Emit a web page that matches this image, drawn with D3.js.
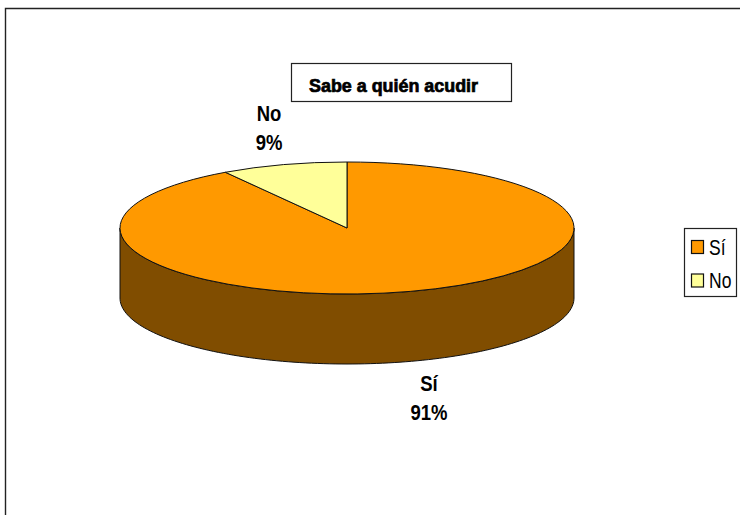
<!DOCTYPE html>
<html>
<head>
<meta charset="utf-8">
<script src="https://cdn.jsdelivr.net/npm/d3@7/dist/d3.min.js"></script>
<style>
  html, body { margin: 0; padding: 0; background: #fff; }
  svg { display: block; }
  text { font-family: "Liberation Sans", Arial, sans-serif; fill: #000; }
</style>
</head>
<body>
<svg id="chart" width="740" height="515"></svg>
<script>
const categories = ["Sí", "No"];
const percentages = [91, 9];
const sliceColors = ["#FF9900", "#FFFF99"];
const sideColors = ["#804D00", "#80804D"];
const chartTitle = "Sabe a quién acudir";

const svg = d3.select("#chart");
const cx = 347, cy = 228, rx = 227, ry = 66, depth = 70;
const squash = ry / rx;

// Outer chart frame: only the top and left edges fall inside the page
svg.append("path")
  .attr("d", "M5.5 515V8.5H740")
  .attr("fill", "none")
  .attr("stroke", "#222")
  .attr("stroke-width", 1.4);

// The first slice runs clockwise from 12 o'clock, the last one closes back onto it
const pie = d3.pie().sort(null).startAngle(0).endAngle(2 * Math.PI);
const slices = pie(percentages);

const pt = (a, dy = 0) => [cx + rx * Math.sin(a), cy - ry * Math.cos(a) + dy];

// Extruded wall: the visible part of each slice lies on the front half of the rim
const pie3d = svg.append("g");
slices.forEach((s, i) => {
  const a0 = Math.max(s.startAngle, Math.PI / 2);
  const a1 = Math.min(s.endAngle, 3 * Math.PI / 2);
  if (a0 >= a1) return;
  const rim = d3.range(0, 121).map(k => a0 + (a1 - a0) * k / 120);
  const wall = rim.map(a => pt(a)).concat(rim.slice().reverse().map(a => pt(a, depth)));
  pie3d.append("path")
    .attr("d", d3.line()(wall) + "Z")
    .attr("fill", sideColors[i])
    .attr("stroke", "#111")
    .attr("stroke-width", 1);
});

// Top face: a circular pie flattened to an ellipse
const arc = d3.arc().innerRadius(0).outerRadius(rx);
pie3d.append("g")
  .attr("transform", `translate(${cx},${cy}) scale(1,${squash})`)
  .selectAll("path")
  .data(slices)
  .join("path")
  .attr("d", arc)
  .attr("fill", (d, i) => sliceColors[i])
  .attr("stroke", "#111")
  .attr("stroke-width", 1)
  .attr("vector-effect", "non-scaling-stroke");

// Slice labels: name above, percentage below, in tall condensed lettering
const labelSpots = [[429, 391], [269, 121]];
const tallText = (x, y, sy, str) => svg.append("text")
  .attr("transform", `translate(${x},${y}) scale(1,${sy})`)
  .text(str);
categories.forEach((c, i) => {
  const [x, y] = labelSpots[i];
  [c, percentages[i] + "%"].forEach((str, k) => {
    tallText(x, y + k * 29, 1.2, str)
      .attr("text-anchor", "middle")
      .attr("font-size", 18.5)
      .attr("font-weight", "bold");
  });
});

// Title box
svg.append("rect")
  .attr("x", 291.5).attr("y", 63.5)
  .attr("width", 220).attr("height", 38)
  .attr("fill", "#fff")
  .attr("stroke", "#222")
  .attr("stroke-width", 1.2);
svg.append("text")
  .attr("x", 309).attr("y", 92)
  .attr("font-size", 18)
  .attr("font-weight", "bold")
  .attr("stroke", "#000")
  .attr("stroke-width", 0.7)
  .attr("textLength", 169)
  .attr("lengthAdjust", "spacingAndGlyphs")
  .text(chartTitle);

// Legend
const legend = svg.append("g");
legend.append("rect")
  .attr("x", 684.5).attr("y", 228.5)
  .attr("width", 52).attr("height", 68)
  .attr("fill", "#fff")
  .attr("stroke", "#222")
  .attr("stroke-width", 1.2);
const legendRows = legend.selectAll("g")
  .data(categories)
  .join("g")
  .attr("transform", (d, i) => `translate(691.5,${240.5 + i * 33.5})`);
legendRows.append("rect")
  .attr("width", 12).attr("height", 13)
  .attr("fill", (d, i) => sliceColors[i])
  .attr("stroke", "#111")
  .attr("stroke-width", 1.2);
legendRows.append("text")
  .attr("transform", "translate(17.5,14) scale(1,1.22)")
  .attr("font-size", 17.5)
  .text(d => d);
</script>
</body>
</html>
